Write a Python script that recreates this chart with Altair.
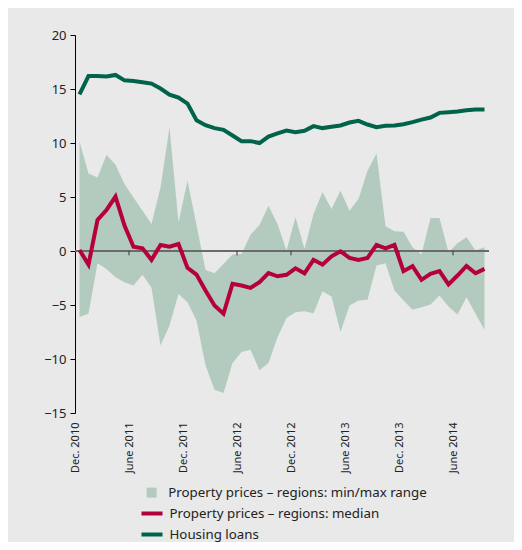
import altair as alt
import pandas as pd

# ---- data (monthly, Dec. 2010 - Sep. 2014) ----
months = pd.date_range("2010-12-01", periods=46, freq="MS").strftime("%Y-%m").tolist()

housing_loans = [14.5, 16.2, 16.2, 16.15, 16.3, 15.8, 15.75, 15.63, 15.5, 15.04,
                 14.48, 14.2, 13.65, 12.1, 11.65, 11.38, 11.22, 10.7, 10.17, 10.17,
                 10.0, 10.6, 10.9, 11.15, 11.0, 11.13, 11.56, 11.38, 11.5, 11.62,
                 11.9, 12.05, 11.71, 11.47, 11.59, 11.62, 11.74, 11.93, 12.17, 12.36,
                 12.79, 12.85, 12.91, 13.04, 13.1, 13.1]

median = [0.1, -1.26, 2.87, 3.8, 5.03, 2.35, 0.4, 0.25, -0.82, 0.56,
          0.4, 0.65, -1.56, -2.18, -3.66, -5.05, -5.81, -3.04, -3.2, -3.41,
          -2.89, -2.04, -2.34, -2.2, -1.6, -2.06, -0.82, -1.26, -0.49, -0.03,
          -0.64, -0.82, -0.64, 0.56, 0.25, 0.56, -1.87, -1.41, -2.67, -2.12,
          -1.87, -3.1, -2.27, -1.38, -2.06, -1.66]

range_max = [10.14, 7.18, 6.81, 8.91, 7.99, 6.2, 4.96, 3.73, 2.5, 5.89,
             11.43, 2.65, 6.5, 2.4, -1.75, -2.06, -1.2, -0.33, -0.27, 1.5,
             2.4, 4.2, 2.5, 0.04, 3.12, 0.19, 3.43, 5.43, 3.89, 5.58,
             3.73, 4.81, 7.43, 9.03, 2.3, 1.82, 1.79, 0.34, -0.33, 3.06,
             3.06, -0.12, 0.71, 1.27, 0.04, 0.34]

range_min = [-6.12, -5.82, -1.13, -1.66, -2.43, -2.89, -3.2, -2.21, -3.41, -8.74,
             -6.89, -3.97, -4.74, -6.43, -10.59, -12.84, -13.15, -10.38, -9.36, -9.14,
             -11.05, -10.38, -7.98, -6.2, -5.66, -5.57, -5.76, -3.72, -4.21, -7.51,
             -5.05, -4.58, -4.52, -1.35, -1.13, -3.66, -4.58, -5.44, -5.2, -4.95,
             -4.12, -5.14, -5.88, -4.28, -5.82, -7.29]

tick_labels = ["Dec. 2010", "June 2011", "Dec. 2011", "June 2012",
               "Dec. 2012", "June 2013", "Dec. 2013", "June 2014"]
y_ticks = [-15, -10, -5, 0, 5, 10, 15, 20]

RANGE_NAME = "Property prices \u2013 regions: min/max range"
MEDIAN_NAME = "Property prices \u2013 regions: median"
LOANS_NAME = "Housing loans"

FONT = "Noto Sans"
BG = "#e8e9e8"

# ---- tables ----
n = len(months)
t = [i + 0.5 for i in range(n)]
tick_pos = [6 * k for k in range(len(tick_labels))]

band_df = pd.DataFrame({"t": t, "month": months, "lo": range_min, "hi": range_max,
                        "band": RANGE_NAME})
lines_df = pd.concat([
    pd.DataFrame({"t": t, "month": months, "value": median, "series": MEDIAN_NAME}),
    pd.DataFrame({"t": t, "month": months, "value": housing_loans, "series": LOANS_NAME}),
])
zero_df = pd.DataFrame({"v": [0]})
ticks_df = pd.DataFrame({"t": tick_pos[1:], "y0": 0, "y1": -0.4})

label_expr = "[" + ",".join("'%s'" % s for s in tick_labels) + "][round(datum.value / 6)]"

x_scale = alt.Scale(domain=[0, n], nice=False, zero=False)
y_scale = alt.Scale(domain=[-15, 20], nice=False, zero=False)

x_axis = alt.Axis(values=tick_pos, labelExpr=label_expr, domain=False, ticks=False,
                  grid=False, title=None, labelAngle=270, labelAlign="right",
                  labelBaseline="middle", labelPadding=9, labelFont=FONT,
                  labelFontSize=11, labelColor="#222222", labelOverlap=False)
y_axis = alt.Axis(values=y_ticks, domain=True, domainColor="#000000", domainWidth=1,
                  ticks=True, tickColor="#000000", tickSize=5, tickWidth=1,
                  grid=False, title=None, labelPadding=4, labelFont=FONT,
                  labelFontSize=13, labelColor="#222222")

area = alt.Chart(band_df).mark_area(opacity=1, interpolate="linear").encode(
    x=alt.X("t:Q", scale=x_scale, axis=x_axis),
    y=alt.Y("lo:Q", scale=y_scale, axis=y_axis),
    y2="hi:Q",
    fill=alt.Fill("band:N", scale=alt.Scale(domain=[RANGE_NAME], range=["#b3cbbe"]),
                  legend=alt.Legend(title=None, orient="none", legendX=70, legendY=451,
                                    symbolType="square", symbolSize=100,
                                    symbolStrokeWidth=0, labelOffset=10, padding=0,
                                    labelLimit=0, labelFont=FONT, labelFontSize=13.3,
                                    labelColor="#222222")),
)

zero = alt.Chart(zero_df).mark_rule(color="#6b6b6b", strokeWidth=2).encode(
    y=alt.Y("v:Q", scale=y_scale))

ticks = alt.Chart(ticks_df).mark_rule(color="#333333", strokeWidth=1).encode(
    x=alt.X("t:Q", scale=x_scale), y=alt.Y("y0:Q", scale=y_scale), y2="y1:Q")

lines = alt.Chart(lines_df).mark_line(strokeWidth=4, interpolate="linear").encode(
    x=alt.X("t:Q", scale=x_scale),
    y=alt.Y("value:Q", scale=y_scale),
    stroke=alt.Stroke("series:N",
                      scale=alt.Scale(domain=[MEDIAN_NAME, LOANS_NAME],
                                      range=["#b5003c", "#00634a"]),
                      legend=alt.Legend(title=None, orient="none", legendX=64.5, legendY=466,
                                        symbolType="stroke", symbolSize=441,
                                        symbolStrokeWidth=4, labelOffset=5, padding=0,
                                        rowPadding=0, labelLimit=0, labelFont=FONT,
                                        labelFontSize=13.3, labelColor="#222222")),
    detail="series:N",
)

chart = alt.layer(area, zero, ticks, lines).properties(
    width=414, height=378,
    padding={"left": 67, "top": 27, "right": 25, "bottom": 129},
    autosize=alt.AutoSizeParams(type="none"),
    background=BG,
).configure_view(stroke=None).resolve_scale(fill="independent", stroke="independent")

chart.save("out.html", embed_options={"renderer": "svg", "actions": False})
